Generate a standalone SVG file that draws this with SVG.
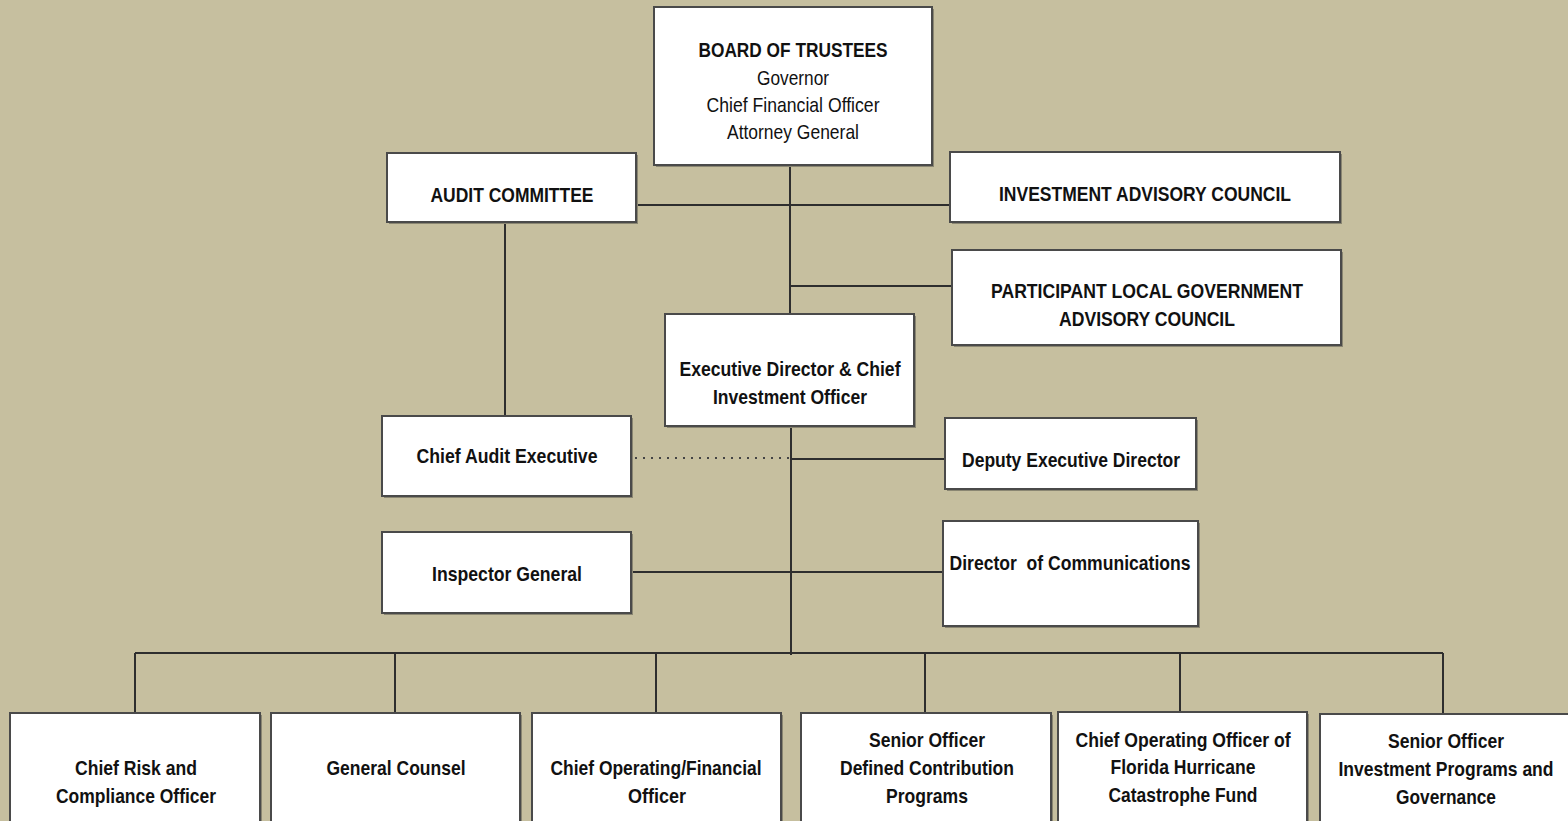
<svg xmlns="http://www.w3.org/2000/svg" width="1568" height="821" viewBox="0 0 1568 821">
<style>
.bg{fill:#C6BF9F}
.box{fill:#ffffff;stroke:#4a4a4a;stroke-width:2}
.sh{fill:#8a8672}
.t{font-family:"Liberation Sans",Arial,sans-serif;font-size:21px;fill:#111;text-anchor:middle}
.b{font-weight:bold}
.ln{stroke:#2e2e2e;stroke-width:2;fill:none}
.dot{stroke:#444;stroke-width:2;stroke-dasharray:2,6;fill:none}
</style>
<rect class="bg" x="0" y="0" width="1568" height="821"/>
<g id="connectors">
<path class="ln" d="M790 165V314M636 205H950M790 286H952M505 222V416M791 426V655M791 459H945M631 572H943M135 653H1443M135 653V713M395 653V713M656 653V713M925 653V713M1180 653V713M1443 653V714"/>
<path class="dot" d="M635 458H791"/>
</g>
<g id="board">
<rect class="sh" x="656" y="9" width="278" height="158"/>
<rect class="box" x="654" y="7" width="278" height="158"/>
<text class="t b" x="793" y="57" textLength="189" lengthAdjust="spacingAndGlyphs">BOARD OF TRUSTEES</text>
<text class="t" x="793" y="85" textLength="72" lengthAdjust="spacingAndGlyphs">Governor</text>
<text class="t" x="793" y="112" textLength="173" lengthAdjust="spacingAndGlyphs">Chief Financial Officer</text>
<text class="t" x="793" y="139" textLength="132" lengthAdjust="spacingAndGlyphs">Attorney General</text>
</g>
<g id="audit-committee">
<rect class="sh" x="389" y="155" width="249" height="69"/>
<rect class="box" x="387" y="153" width="249" height="69"/>
<text class="t b" x="512" y="202" textLength="163" lengthAdjust="spacingAndGlyphs">AUDIT COMMITTEE</text>
</g>
<g id="investment-advisory-council">
<rect class="sh" x="952" y="154" width="390" height="70"/>
<rect class="box" x="950" y="152" width="390" height="70"/>
<text class="t b" x="1145" y="201" textLength="292" lengthAdjust="spacingAndGlyphs">INVESTMENT ADVISORY COUNCIL</text>
</g>
<g id="plgac">
<rect class="sh" x="954" y="252" width="389" height="95"/>
<rect class="box" x="952" y="250" width="389" height="95"/>
<text class="t b" x="1147" y="298" textLength="312" lengthAdjust="spacingAndGlyphs">PARTICIPANT LOCAL GOVERNMENT</text>
<text class="t b" x="1147" y="326" textLength="176" lengthAdjust="spacingAndGlyphs">ADVISORY COUNCIL</text>
</g>
<g id="executive-director">
<rect class="sh" x="667" y="316" width="249" height="112"/>
<rect class="box" x="665" y="314" width="249" height="112"/>
<text class="t b" x="790" y="376" textLength="221" lengthAdjust="spacingAndGlyphs">Executive Director &amp; Chief</text>
<text class="t b" x="790" y="404" textLength="154" lengthAdjust="spacingAndGlyphs">Investment Officer</text>
</g>
<g id="chief-audit-executive">
<rect class="sh" x="384" y="418" width="249" height="80"/>
<rect class="box" x="382" y="416" width="249" height="80"/>
<text class="t b" x="507" y="463" textLength="181" lengthAdjust="spacingAndGlyphs">Chief Audit Executive</text>
</g>
<g id="deputy-executive-director">
<rect class="sh" x="947" y="420" width="251" height="71"/>
<rect class="box" x="945" y="418" width="251" height="71"/>
<text class="t b" x="1071" y="467" textLength="218" lengthAdjust="spacingAndGlyphs">Deputy Executive Director</text>
</g>
<g id="inspector-general">
<rect class="sh" x="384" y="534" width="249" height="81"/>
<rect class="box" x="382" y="532" width="249" height="81"/>
<text class="t b" x="507" y="581" textLength="150" lengthAdjust="spacingAndGlyphs">Inspector General</text>
</g>
<g id="director-communications">
<rect class="sh" x="945" y="523" width="255" height="105"/>
<rect class="box" x="943" y="521" width="255" height="105"/>
<text class="t b" x="1070" y="570" xml:space="preserve" textLength="241" lengthAdjust="spacingAndGlyphs">Director  of Communications</text>
</g>
<g id="chief-risk">
<rect class="sh" x="12" y="715" width="250" height="120"/>
<rect class="box" x="10" y="713" width="250" height="120"/>
<text class="t b" x="136" y="775" textLength="122" lengthAdjust="spacingAndGlyphs">Chief Risk and</text>
<text class="t b" x="136" y="803" textLength="160" lengthAdjust="spacingAndGlyphs">Compliance Officer</text>
</g>
<g id="general-counsel">
<rect class="sh" x="273" y="715" width="249" height="120"/>
<rect class="box" x="271" y="713" width="249" height="120"/>
<text class="t b" x="396" y="775" textLength="139" lengthAdjust="spacingAndGlyphs">General Counsel</text>
</g>
<g id="coo-cfo">
<rect class="sh" x="534" y="715" width="249" height="120"/>
<rect class="box" x="532" y="713" width="249" height="120"/>
<text class="t b" x="656" y="775" textLength="211" lengthAdjust="spacingAndGlyphs">Chief Operating/Financial</text>
<text class="t b" x="657" y="803" textLength="58" lengthAdjust="spacingAndGlyphs">Officer</text>
</g>
<g id="senior-officer-dc">
<rect class="sh" x="803" y="715" width="250" height="120"/>
<rect class="box" x="801" y="713" width="250" height="120"/>
<text class="t b" x="927" y="747" textLength="116" lengthAdjust="spacingAndGlyphs">Senior Officer</text>
<text class="t b" x="927" y="775" textLength="174" lengthAdjust="spacingAndGlyphs">Defined Contribution</text>
<text class="t b" x="927" y="803" textLength="82" lengthAdjust="spacingAndGlyphs">Programs</text>
</g>
<g id="coo-fhcf">
<rect class="sh" x="1060" y="714" width="249" height="120"/>
<rect class="box" x="1058" y="712" width="249" height="120"/>
<text class="t b" x="1183" y="747" textLength="215" lengthAdjust="spacingAndGlyphs">Chief Operating Officer of</text>
<text class="t b" x="1183" y="774" textLength="145" lengthAdjust="spacingAndGlyphs">Florida Hurricane</text>
<text class="t b" x="1183" y="802" textLength="149" lengthAdjust="spacingAndGlyphs">Catastrophe Fund</text>
</g>
<g id="senior-officer-ipg">
<rect class="sh" x="1322" y="716" width="250" height="120"/>
<rect class="box" x="1320" y="714" width="250" height="120"/>
<text class="t b" x="1446" y="748" textLength="116" lengthAdjust="spacingAndGlyphs">Senior Officer</text>
<text class="t b" x="1446" y="776" textLength="215" lengthAdjust="spacingAndGlyphs">Investment Programs and</text>
<text class="t b" x="1446" y="804" textLength="100" lengthAdjust="spacingAndGlyphs">Governance</text>
</g>
</svg>
